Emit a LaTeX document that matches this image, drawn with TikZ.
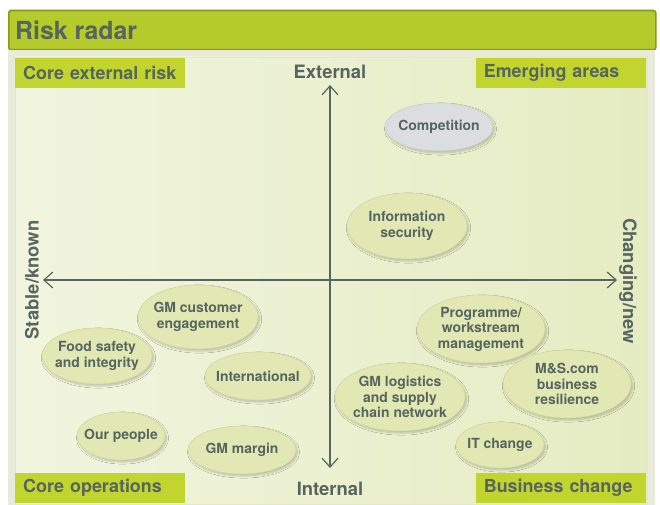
\documentclass[tikz,border=0pt]{standalone}
\usepackage{fontspec}
\setmainfont{TeX Gyre Heros}
\usetikzlibrary{shapes.geometric,arrows.meta,shadows.blur}

\definecolor{ink}{HTML}{56655F}
\definecolor{barfill}{HTML}{B5CA2B}
\definecolor{barline}{HTML}{8A9A1E}
\definecolor{tagfill}{HTML}{C2D52F}
\definecolor{panelL}{HTML}{F1F5DF}
\definecolor{panelR}{HTML}{E5ECC2}
\definecolor{framegrey}{HTML}{E8EBDC}
\definecolor{blob}{HTML}{E2E8B4}
\definecolor{blobline}{HTML}{D2D99C}
\definecolor{greyblob}{HTML}{DCDDE0}
\definecolor{greyline}{HTML}{CDCED2}

\tikzset{
  risk/.style={ellipse, fill=blob, draw=blobline, line width=0.6bp, inner sep=0pt,
    blur shadow={shadow xshift=1.5bp, shadow yshift=-2bp, shadow blur steps=6, shadow opacity=22}},
  risktext/.style={align=center, text=ink, inner sep=0pt,
    font=\fontsize{14}{15.5}\selectfont\bfseries},
  tag/.style={rectangle, fill=tagfill, text=ink, font=\fontsize{18}{20}\selectfont\bfseries,
    text width=154bp, align=left, inner xsep=8bp, inner ysep=0pt, minimum height=30bp},
  axislabel/.style={text=ink, font=\fontsize{18.5}{20}\selectfont\bfseries, inner sep=0pt},
  axis/.style={draw=ink, line width=1.8bp,
    {Straight Barb[length=9bp,width=16bp,line width=1.2bp]}-{Straight Barb[length=9bp,width=16bp,line width=1.2bp]}}
}

\begin{document}
\begin{tikzpicture}[x=1bp,y=-1bp]
  \useasboundingbox (0,0) rectangle (660,505);

  % title bar
  \fill[white] (0,0) rectangle (660,505);
  \draw[black!15, line width=1bp] (9,9.5) -- (654,9.5);
  \node[draw=barline, fill=barfill, line width=1.5bp, rounded corners=2bp,
        minimum width=647bp, minimum height=39bp, inner sep=0pt, anchor=north west]
        (title) at (8,10) {};
  \node[text=ink, font=\fontsize{25}{27}\selectfont\bfseries, anchor=west, inner sep=0pt]
        (titletext) at (15,30) {Risk radar};

  % panel with its surround
  \fill[framegrey] (8,50) rectangle (655,505);
  \shade[left color=panelL, right color=panelR] (15,57) rectangle (647,504);
  \draw[blobline!60, line width=0.6bp] (15,57) rectangle (647,504);

  % quadrant tags
  \node[tag, anchor=north west] (coreext) at (15,58) {Core external risk};
  \node[tag, anchor=north east] (emerging) at (646,58) {Emerging areas};
  \node[tag, anchor=south west] (coreops) at (15,503) {Core operations};
  \node[tag, anchor=south east] (business) at (646,503) {Business change};

  % axes
  \coordinate (west) at (43,280);
  \coordinate (east) at (617,280);
  \coordinate (north) at (330,85);
  \coordinate (south) at (330,468);
  \draw[axis] (west) -- (east);
  \draw[axis] (south) -- (north);

  \node[axislabel] (external) at (330,72) {External};
  \node[axislabel] (internal) at (330,489) {Internal};
  \node[axislabel, rotate=90] (stable) at (32,280) {Stable/known};
  \node[axislabel, rotate=-90] (changing) at (628,281) {Changing/new};

  % risk ellipses
  \node[risk, fill=greyblob, draw=greyline, minimum width=108bp, minimum height=48bp]
        (competition) at (439,127) {};
  \node[risk, minimum width=120bp, minimum height=66bp] (infosec) at (407,226) {};
  \node[risk, minimum width=120bp, minimum height=64bp] (gmcust) at (198,317) {};
  \node[risk, minimum width=110bp, minimum height=56bp] (food) at (97,356) {};
  \node[risk, minimum width=106bp, minimum height=48bp] (intl) at (258,376) {};
  \node[risk, minimum width=88bp, minimum height=48bp] (people) at (121,436) {};
  \node[risk, minimum width=108bp, minimum height=48bp] (margin) at (242,450) {};
  \node[risk, minimum width=128bp, minimum height=68bp] (programme) at (481,329) {};
  \node[risk, minimum width=130bp, minimum height=68bp] (logistics) at (400,397) {};
  \node[risk, minimum width=128bp, minimum height=68bp] (mscom) at (567,384) {};
  \node[risk, minimum width=88bp, minimum height=46bp] (itchange) at (500,445) {};

  % risk names
  \node[risktext] (competition-t) at (competition) {Competition};
  \node[risktext] (infosec-t) at (infosec) {Information\\security};
  \node[risktext] (gmcust-t) at (gmcust) {GM customer\\engagement};
  \node[risktext] (food-t) at (food) {Food safety\\and integrity};
  \node[risktext] (intl-t) at (intl) {International};
  \node[risktext] (people-t) at (people) {Our people};
  \node[risktext] (margin-t) at (margin) {GM margin};
  \node[risktext] (programme-t) at (programme) {Programme/\\workstream\\management};
  \node[risktext] (logistics-t) at (logistics) {GM logistics\\and supply\\chain network};
  \node[risktext] (mscom-t) at (mscom) {M\&S.com\\business\\resilience};
  \node[risktext] (itchange-t) at (itchange) {IT change};
\end{tikzpicture}
\end{document}
